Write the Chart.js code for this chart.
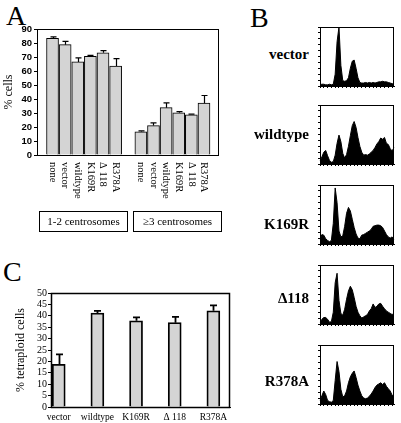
<!DOCTYPE html>
<html>
<head>
<meta charset="utf-8">
<script src="https://cdn.jsdelivr.net/npm/chart.js@4"></script>
<style>
  body { margin: 0; background: #fff; }
  #fig { position: relative; width: 401px; height: 423px; font-family: 'Liberation Serif', serif; color: #000; overflow: hidden; }
  #fig canvas { position: absolute; }
  .panel { position: absolute; font-size: 28px; line-height: 28px; }
  .hlabel { position: absolute; width: 70px; text-align: right; font-weight: bold; font-size: 15px; line-height: 18px; }
  .group { position: absolute; top: 211px; height: 21px; border: 1px solid #000; box-sizing: border-box;
           font-size: 11px; line-height: 19px; text-align: center; }
</style>
</head>
<body>
<div id="fig">
  <div class="panel" style="left:6px;top:2px">A</div>
  <div class="panel" style="left:250px;top:4px">B</div>
  <div class="panel" style="left:3px;top:258px">C</div>

  <canvas id="chartA" width="230" height="240" style="left:0;top:0"></canvas>
  <div class="group" style="left:39px;width:89px">1-2 centrosomes</div>
  <div class="group" style="left:133px;width:89px">≥3 centrosomes</div>

  <canvas id="chartC" width="240" height="143" style="left:0;top:280px"></canvas>

  <div class="hlabel" style="left:239px;top:45px">vector</div>
  <div class="hlabel" style="left:239px;top:125px">wildtype</div>
  <div class="hlabel" style="left:239px;top:215px">K169R</div>
  <div class="hlabel" style="left:239px;top:289px">Δ118</div>
  <div class="hlabel" style="left:239px;top:372px">R378A</div>
  <canvas id="hist0" width="86" height="64" style="left:314px;top:26px"></canvas>
  <canvas id="hist1" width="86" height="64" style="left:314px;top:104px"></canvas>
  <canvas id="hist2" width="86" height="64" style="left:314px;top:184px"></canvas>
  <canvas id="hist3" width="86" height="64" style="left:314px;top:264px"></canvas>
  <canvas id="hist4" width="86" height="80" style="left:314px;top:344px"></canvas>
</div>

<script>
// Panel A - % cells by centrosome number
const groupLabels = ['none', 'vector', 'wildtype', 'K169R', 'Δ 118', 'R378A'];
const oneTwoCentrosomes = [83.4, 78.8, 66.5, 70.5, 73, 63.5];
const oneTwoErr = [1, 2.4, 2.9, 0.6, 1.5, 5.4];
const threePlusCentrosomes = [16.6, 21, 33.8, 30.2, 28.7, 37];
const threePlusErr = [0.6, 2, 3.4, 0.8, 0.5, 5.5];

// Panel C - % tetraploid cells
const tetraLabels = ['vector', 'wildtype', 'K169R', 'Δ 118', 'R378A'];
const tetraploid = [18.7, 41.2, 37.8, 37, 42.2];
const tetraErr = [4.4, 1, 1.5, 2.5, 2.4];

// Panel B - DNA content histograms (relative counts, 40 channels)
const histVector = [2, 3, 3, 2, 2, 3, 2, 3, 20, 75, 100, 35, 9, 8, 9, 14, 30, 42, 44, 30,
                    14, 6, 5, 5, 6, 5, 6, 5, 6, 5, 6, 7, 7, 8, 7, 7, 6, 5, 4, 3];
const histWildtype = [5, 12, 20, 23, 14, 6, 3, 4, 15, 35, 49, 38, 18, 10, 16, 30, 48, 65, 72, 62,
                      45, 30, 20, 15, 16, 15, 17, 20, 23, 28, 34, 38, 44, 42, 45, 35, 33, 26, 22, 28];
const histK169R = [8, 16, 15, 9, 6, 4, 6, 35, 95, 70, 22, 12, 14, 30, 52, 62, 56, 42, 28, 17,
                   10, 9, 15, 16, 18, 20, 22, 25, 30, 31, 32, 32, 31, 28, 22, 16, 12, 10, 12, 8];
const histD118 = [3, 8, 11, 11, 8, 3, 4, 20, 70, 86, 40, 18, 15, 25, 42, 56, 64, 58, 45, 30,
                  20, 14, 10, 12, 14, 16, 22, 26, 34, 28, 30, 34, 35, 30, 26, 22, 20, 18, 16, 18];
const histR378A = [6, 14, 22, 16, 6, 4, 3, 6, 40, 72, 55, 25, 12, 14, 22, 36, 46, 52, 56, 45,
                   32, 22, 14, 10, 9, 10, 13, 17, 22, 28, 32, 34, 36, 33, 36, 30, 26, 22, 15, 12];
const ploidyLabels = ['2C', '4C', '8C'];
const ploidyChannels = [9, 17, 31];

const barFill = '#d4d4d4';
const serif = "'Liberation Serif', serif";

// box round the plot area
const framePlugin = {
    id: 'frame',
    afterDraw(chart, args, opts) {
        const a = chart.chartArea;
        const ctx = chart.ctx;
        ctx.save();
        ctx.strokeStyle = '#000';
        ctx.lineWidth = opts.width || 1;
        ctx.strokeRect(Math.round(a.left) + 0.5, Math.round(a.top) + 0.5,
                       Math.round(a.right - a.left) - 1, Math.round(a.bottom - a.top));
        ctx.restore();
    }
};

// one-sided error bars, errors kept on each dataset
const errorBarPlugin = {
    id: 'errorBars',
    afterDatasetsDraw(chart, args, opts) {
        const ctx = chart.ctx;
        const yScale = chart.scales.y;
        ctx.save();
        ctx.strokeStyle = '#000';
        ctx.lineWidth = opts.width || 1;
        chart.data.datasets.forEach(function(ds, di) {
            const meta = chart.getDatasetMeta(di);
            meta.data.forEach(function(bar, i) {
                const top = yScale.getPixelForValue(ds.data[i].y + ds.errors[i]);
                const x = Math.round(bar.x) + 0.5;
                ctx.beginPath();
                ctx.moveTo(x, bar.y);
                ctx.lineTo(x, top);
                ctx.moveTo(x - opts.cap, top);
                ctx.lineTo(x + opts.cap, top);
                ctx.stroke();
            });
        });
        ctx.restore();
    }
};

// x labels of panel A, turned a quarter clockwise
const turnedLabelsPlugin = {
    id: 'turnedLabels',
    afterDraw(chart) {
        const ctx = chart.ctx;
        const y = chart.chartArea.bottom + 7;
        ctx.save();
        ctx.font = '10.5px ' + serif;
        ctx.fillStyle = '#000';
        ctx.textAlign = 'left';
        ctx.textBaseline = 'middle';
        chart.data.datasets.forEach(function(ds, di) {
            chart.getDatasetMeta(di).data.forEach(function(bar, i) {
                ctx.save();
                ctx.translate(bar.x, y);
                ctx.rotate(Math.PI / 2);
                ctx.fillText(groupLabels[i], 0, 0);
                ctx.restore();
            });
        });
        ctx.restore();
    }
};

function barDataset(values, errors, offset) {
    return {
        data: values.map((v, i) => ({ x: i + 1 + offset, y: v })),
        errors: errors,
        backgroundColor: barFill,
        borderColor: '#000',
        borderWidth: 1,
        borderSkipped: 'bottom',
        grouped: false,
        barThickness: 12
    };
}

new Chart(document.getElementById('chartA'), {
    type: 'bar',
    data: {
        datasets: [
            barDataset(oneTwoCentrosomes, oneTwoErr, 0),
            barDataset(threePlusCentrosomes, threePlusErr, groupLabels.length + 1)
        ]
    },
    options: {
        responsive: false,
        animation: false,
        layout: { padding: { top: 29, right: 11, bottom: 85, left: 0 } },
        plugins: {
            legend: { display: false },
            tooltip: { enabled: false },
            frame: {},
            errorBars: { cap: 3, width: 1.2 }
        },
        scales: {
            x: { type: 'linear', display: false, offset: false, min: -0.23, max: 14.19 },
            y: {
                min: 0, max: 90,
                ticks: { stepSize: 10, autoSkip: false, color: '#000', padding: 2,
                         font: { family: "'Liberation Sans', sans-serif", size: 9.5, weight: 'bold' } },
                grid: { drawOnChartArea: false, tickLength: 3, color: '#000' },
                border: { color: '#000' },
                title: { display: true, text: '% cells', color: '#000', padding: { top: 2, bottom: 0 },
                         font: { family: serif, size: 12 } },
                afterFit(scale) { scale.width = 37; }
            }
        }
    },
    plugins: [framePlugin, errorBarPlugin, turnedLabelsPlugin]
});

new Chart(document.getElementById('chartC'), {
    type: 'bar',
    data: {
        datasets: [Object.assign(barDataset(tetraploid, tetraErr, 0), { borderWidth: 1.8, barThickness: 13 })]
    },
    options: {
        responsive: false,
        animation: false,
        layout: { padding: { top: 13, right: 10, bottom: 0, left: 0 } },
        plugins: {
            legend: { display: false },
            tooltip: { enabled: false },
            frame: { width: 1.5 },
            errorBars: { cap: 3.5, width: 1.8 }
        },
        scales: {
            x: {
                type: 'linear', offset: false, min: 0.8, max: 5.43,
                afterBuildTicks(scale) { scale.ticks = tetraLabels.map((t, i) => ({ value: i + 1 })); },
                ticks: { autoSkip: false, maxRotation: 0, color: '#000', padding: 5,
                         font: { family: serif, size: 9.5 },
                         callback: v => tetraLabels[v - 1] },
                grid: { display: false, drawTicks: false },
                border: { color: '#000' },
                afterFit(scale) { scale.height = 16; }
            },
            y: {
                min: 0, max: 50,
                ticks: { stepSize: 5, autoSkip: false, color: '#000', padding: 1, font: { family: serif, size: 10 } },
                grid: { drawOnChartArea: false, tickLength: 3, color: '#000' },
                border: { color: '#000' },
                title: { display: true, text: '% tetraploid cells', color: '#000', padding: { top: 14, bottom: 0 },
                         font: { family: serif, size: 12 } },
                afterFit(scale) { scale.width = 51; }
            }
        }
    },
    plugins: [framePlugin, errorBarPlugin]
});

// Panel B histograms
const histValues = [histVector, histWildtype, histK169R, histD118, histR378A];
histValues.forEach(function(values, h) {
    const last = h === histValues.length - 1;
    new Chart(document.getElementById('hist' + h), {
        type: 'line',
        data: {
            labels: values.map((v, i) => i),
            datasets: [{
                data: values,
                fill: 'origin',
                backgroundColor: '#000',
                borderColor: '#000',
                borderWidth: 1,
                pointRadius: 0,
                tension: 0
            }]
        },
        options: {
            responsive: false,
            animation: false,
            layout: { padding: { top: 1, right: 3, bottom: last ? 17 : 1, left: 0 } },
            plugins: { legend: { display: false }, tooltip: { enabled: false }, frame: {} },
            scales: {
                x: {
                    offset: false,
                    ticks: {
                        autoSkip: false, maxRotation: 0, color: '#000', padding: 6,
                        font: { family: serif, size: 9.5 },
                        callback: (v, i) => {
                            const k = ploidyChannels.indexOf(i);
                            return last && k >= 0 ? ploidyLabels[k] : '';
                        }
                    },
                    grid: { drawOnChartArea: false, tickLength: 2,
                            color: c => c.index % 2 ? 'rgba(0,0,0,0)' : '#000' },
                    border: { color: '#000' },
                    afterFit(scale) { scale.height = 3; }
                },
                y: {
                    min: 0, max: 100,
                    ticks: { display: false, stepSize: 10 },
                    grid: { drawOnChartArea: false, tickLength: 2, color: '#000' },
                    border: { color: '#000' },
                    afterFit(scale) { scale.width = 3; }
                }
            }
        },
        plugins: [framePlugin]
    });
});
</script>
</body>
</html>
